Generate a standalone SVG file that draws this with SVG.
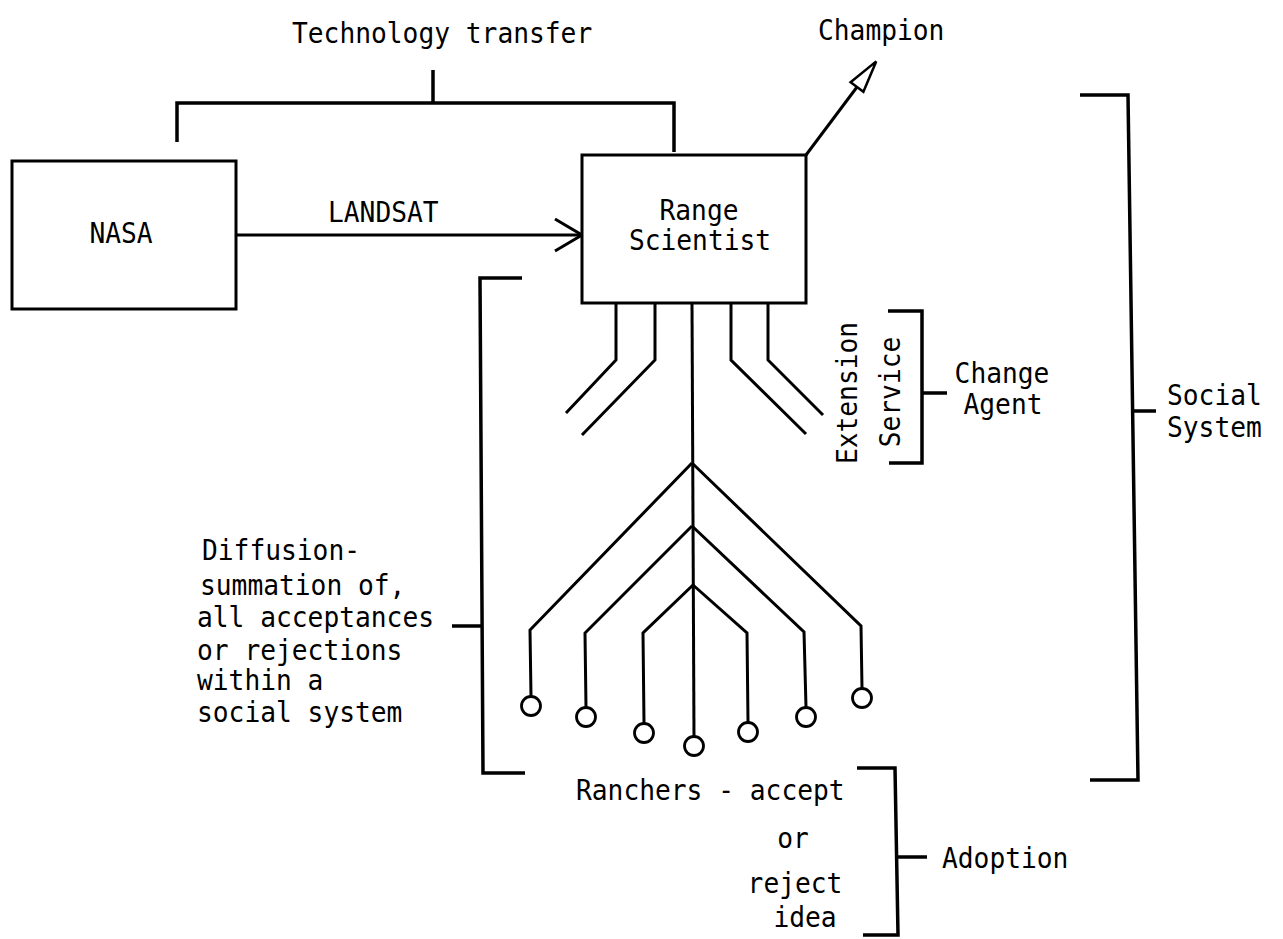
<svg xmlns="http://www.w3.org/2000/svg" width="1283" height="939" viewBox="0 0 1283 939">
<defs>
<style>
.t{font-family:"DejaVu Sans Mono","Liberation Mono",monospace;font-size:28px;fill:#000}
.m{text-anchor:middle}
.box{fill:#fff;stroke:#000;stroke-width:3}
.ln{fill:none;stroke:#000;stroke-width:3;stroke-linejoin:miter}
.br{fill:none;stroke:#000;stroke-width:3.5}
.c{fill:#fff;stroke:#000;stroke-width:2.8}
</style>
<marker id="vopen" markerUnits="userSpaceOnUse" markerWidth="40" markerHeight="40" refX="0" refY="0" orient="auto" overflow="visible">
<path d="M-27,-16 L0,0 L-27,16" fill="none" stroke="#000" stroke-width="3"/>
</marker>
<marker id="narrow" markerUnits="userSpaceOnUse" markerWidth="40" markerHeight="40" refX="0" refY="0" orient="auto" overflow="visible">
<path d="M2,0 L-30,-8 L-30,8 Z" fill="#fff" stroke="#000" stroke-width="2.5"/>
</marker>
</defs>
<rect width="1283" height="939" fill="#fff"/>

<g id="connectors">
<path class="br" d="M433,70 V103 M177,142 V103 H674 V152"/>
<path class="ln" d="M236,235 H582" marker-end="url(#vopen)"/>
<path class="ln" d="M806,155 L875,63" marker-end="url(#narrow)"/>
<path class="ln" d="M616,304 V360 L566,413 M655,304 V360 L582,435 M731,304 V360 L806,434 M768,304 V360 L823,415"/>
<path class="ln" d="M692,304 L694,736"/>
<path class="ln" d="M692,463 L530,630 L531,696 M692,463 L861,626 L862,688"/>
<path class="ln" d="M692,526 L585,633 L586,707 M692,526 L804,632 L806,707"/>
<path class="ln" d="M693,585 L643,633 L644,723 M693,585 L747,633 L748,722"/>
<path class="br" d="M888,311 H922 V463 H889 M922,393 H947"/>
<path class="br" d="M1080,95 H1128 L1138,780 H1090 M1134,411 H1156"/>
<path class="br" d="M522,278 H480 L483,773 H525 M452,626 H482"/>
<path class="br" d="M857,768 H895 L898,935 H863 M898,857 H927"/>
</g>

<g id="tech-transfer-label"><g transform="translate(292,43) scale(0.938,1)"><text class="t" x="0" y="0">Technology transfer</text></g></g>

<g id="nasa">
<rect class="box" x="12" y="161" width="224" height="148"/>
<g transform="translate(121,243) scale(0.938,1)"><text class="t m" x="0" y="0">NASA</text></g>
</g>

<g id="landsat-label"><g transform="translate(328,222) scale(0.938,1)"><text class="t" x="0" y="0">LANDSAT</text></g></g>

<g id="range-scientist">
<rect class="box" x="582" y="155" width="224" height="148"/>
<g transform="translate(699,220) scale(0.938,1)"><text class="t m" x="0" y="0">Range</text></g>
<g transform="translate(700,250) scale(0.938,1)"><text class="t m" x="0" y="0">Scientist</text></g>
</g>

<g id="champion"><g transform="translate(818,40) scale(0.938,1)"><text class="t" x="0" y="0">Champion</text></g></g>

<g id="extension-service">
<g transform="translate(857,393) rotate(-90) scale(0.938,1)"><text class="t m" x="0" y="0">Extension</text></g>
<g transform="translate(900,392) rotate(-90) scale(0.938,1)"><text class="t m" x="0" y="0">Service</text></g>
</g>

<g id="change-agent">
<g transform="translate(1002,383) scale(0.938,1)"><text class="t m" x="0" y="0">Change</text></g>
<g transform="translate(1003,414) scale(0.938,1)"><text class="t m" x="0" y="0">Agent</text></g>
</g>

<g id="social-system">
<g transform="translate(1167,405) scale(0.938,1)"><text class="t" x="0" y="0">Social</text></g>
<g transform="translate(1167,437) scale(0.938,1)"><text class="t" x="0" y="0">System</text></g>
</g>

<g id="diffusion">
<g transform="translate(202,560) scale(0.938,1)"><text class="t" x="0" y="0">Diffusion-</text></g>
<g transform="translate(200,595) scale(0.938,1)"><text class="t" x="0" y="0">summation of,</text></g>
<g transform="translate(197,627) scale(0.938,1)"><text class="t" x="0" y="0">all acceptances</text></g>
<g transform="translate(197,660) scale(0.938,1)"><text class="t" x="0" y="0">or rejections</text></g>
<g transform="translate(197,690) scale(0.938,1)"><text class="t" x="0" y="0">within a</text></g>
<g transform="translate(197,722) scale(0.938,1)"><text class="t" x="0" y="0">social system</text></g>
</g>

<g id="ranchers">
<circle class="c" cx="531" cy="706" r="9.5"/>
<circle class="c" cx="586" cy="717" r="9.5"/>
<circle class="c" cx="644" cy="733" r="9.5"/>
<circle class="c" cx="694" cy="746" r="9.5"/>
<circle class="c" cx="748" cy="732" r="9.5"/>
<circle class="c" cx="806" cy="717" r="9.5"/>
<circle class="c" cx="862" cy="698" r="9.5"/>
</g>

<g id="ranchers-label">
<g transform="translate(576,800) scale(0.938,1)"><text class="t" x="0" y="0">Ranchers - accept</text></g>
<g transform="translate(793,848) scale(0.938,1)"><text class="t m" x="0" y="0">or</text></g>
<g transform="translate(795,893) scale(0.938,1)"><text class="t m" x="0" y="0">reject</text></g>
<g transform="translate(805,927) scale(0.938,1)"><text class="t m" x="0" y="0">idea</text></g>
</g>

<g id="adoption"><g transform="translate(942,868) scale(0.938,1)"><text class="t" x="0" y="0">Adoption</text></g></g>
</svg>
